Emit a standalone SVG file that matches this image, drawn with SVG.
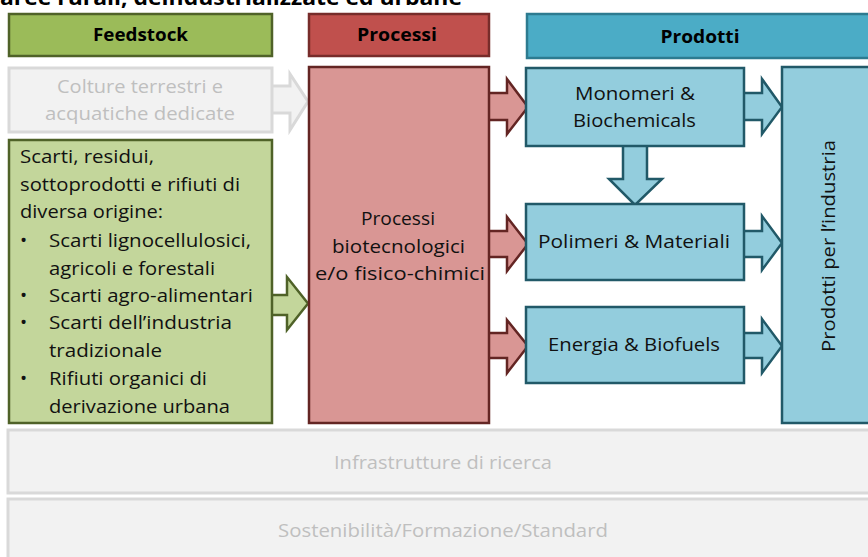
<svg xmlns="http://www.w3.org/2000/svg" width="868" height="557" viewBox="0 0 868 557">
  <style>
    text { font-family: "Open Sans", Lato, "Liberation Sans", sans-serif; }
    .hdr { font-size: 18px; font-weight: bold; fill: #000; text-anchor: middle; }
    .lbl { font-size: 19px; fill: #111; }
    .mid { text-anchor: middle; }
    .faint { fill: #bfbfbf; font-size: 18.5px; text-anchor: middle; }
    .green-h { fill: #9bbb59; stroke: #4f6228; stroke-width: 2.5; }
    .red-h { fill: #c0504d; stroke: #772c2a; stroke-width: 2.5; }
    .blue-h { fill: #4bacc6; stroke: #2d7b90; stroke-width: 2.5; }
    .green { fill: #c3d69b; stroke: #4f6228; stroke-width: 2.5; }
    .red { fill: #d99694; stroke: #632523; stroke-width: 2.5; }
    .blue { fill: #93cddd; stroke: #215968; stroke-width: 2.5; }
    .grey { fill: #f2f2f2; stroke: #d9d9d9; stroke-width: 3; }
  </style>

  <!-- heading, partly above the top edge -->
  <text x="0" y="5" style="font-size:21px;font-weight:bold" fill="#000" textLength="462" lengthAdjust="spacingAndGlyphs">aree rurali, deindustrializzate ed urbane</text>

  <!-- connectors: block arrows -->
  <g id="connectors">
    <path class="grey" d="M268,86 H290 V74 L308,101.5 L290,130 V113 H268 Z"/>
    <path class="green" d="M268,295 H287 V277 L308,303.5 L287,330 V315 H268 Z"/>
    <path class="red" d="M487,93 H507 V79 L528,107 L507,134 V120 H487 Z"/>
    <path class="red" d="M487,231 H507 V217 L528,244 L507,271 V257 H487 Z"/>
    <path class="red" d="M487,333 H507 V320 L528,346 L507,373 V358 H487 Z"/>
    <path class="blue" d="M742,93 H762 V79 L782,107 L762,134 V120 H742 Z"/>
    <path class="blue" d="M742,231 H762 V216 L782,243 L762,270 V257 H742 Z"/>
    <path class="blue" d="M742,333 H762 V319 L782,346 L762,373 V358 H742 Z"/>
    <path class="blue" d="M623,144 V179 H609 L635,205 L662,179 H647 V144 Z"/>
  </g>

  <!-- column headers -->
  <g id="hdr-feedstock">
    <rect class="green-h" x="9" y="14" width="263" height="42"/>
    <text class="hdr" x="140.5" y="41" textLength="95" lengthAdjust="spacingAndGlyphs">Feedstock</text>
  </g>
  <g id="hdr-processi">
    <rect class="red-h" x="309" y="14" width="180" height="42"/>
    <text class="hdr" x="397" y="41" textLength="80" lengthAdjust="spacingAndGlyphs">Processi</text>
  </g>
  <g id="hdr-prodotti">
    <rect class="blue-h" x="527" y="14" width="348" height="44"/>
    <text class="hdr" x="700" y="43" textLength="79" lengthAdjust="spacingAndGlyphs">Prodotti</text>
  </g>

  <!-- feedstock column -->
  <g id="colture">
    <rect class="grey" x="9" y="68" width="263" height="64"/>
    <text class="faint" x="140" y="93" textLength="166" lengthAdjust="spacingAndGlyphs">Colture terrestri e</text>
    <text class="faint" x="140" y="120" textLength="190" lengthAdjust="spacingAndGlyphs">acquatiche dedicate</text>
  </g>
  <g id="scarti">
    <rect class="green" x="9" y="140" width="263" height="283"/>
    <text class="lbl" x="20" y="163" textLength="134" lengthAdjust="spacingAndGlyphs">Scarti, residui,</text>
    <text class="lbl" x="20" y="191" textLength="220" lengthAdjust="spacingAndGlyphs">sottoprodotti e rifiuti di</text>
    <text class="lbl" x="20" y="218" textLength="143" lengthAdjust="spacingAndGlyphs">diversa origine:</text>
    <text class="lbl" x="20" y="247">•</text>
    <text class="lbl" x="49" y="247" textLength="202" lengthAdjust="spacingAndGlyphs">Scarti lignocellulosici,</text>
    <text class="lbl" x="49" y="275" textLength="166" lengthAdjust="spacingAndGlyphs">agricoli e forestali</text>
    <text class="lbl" x="20" y="302">•</text>
    <text class="lbl" x="49" y="302" textLength="204" lengthAdjust="spacingAndGlyphs">Scarti agro-alimentari</text>
    <text class="lbl" x="20" y="329">•</text>
    <text class="lbl" x="49" y="329" textLength="183" lengthAdjust="spacingAndGlyphs">Scarti dell’industria</text>
    <text class="lbl" x="49" y="357" textLength="113" lengthAdjust="spacingAndGlyphs">tradizionale</text>
    <text class="lbl" x="20" y="385">•</text>
    <text class="lbl" x="49" y="385" textLength="158" lengthAdjust="spacingAndGlyphs">Rifiuti organici di</text>
    <text class="lbl" x="49" y="413" textLength="181" lengthAdjust="spacingAndGlyphs">derivazione urbana</text>
  </g>

  <!-- process column -->
  <g id="processi">
    <rect class="red" x="309" y="67" width="180" height="356"/>
    <text class="lbl mid" x="398" y="225" textLength="74" lengthAdjust="spacingAndGlyphs">Processi</text>
    <text class="lbl mid" x="398.5" y="253" textLength="133" lengthAdjust="spacingAndGlyphs">biotecnologici</text>
    <text class="lbl mid" x="400" y="280" textLength="170" lengthAdjust="spacingAndGlyphs">e/o fisico-chimici</text>
  </g>

  <!-- product column -->
  <g id="monomeri">
    <rect class="blue" x="526" y="68" width="218" height="78"/>
    <text class="lbl mid" x="635" y="100" textLength="120" lengthAdjust="spacingAndGlyphs">Monomeri &amp;</text>
    <text class="lbl mid" x="634.5" y="127" textLength="123" lengthAdjust="spacingAndGlyphs">Biochemicals</text>
  </g>
  <g id="polimeri">
    <rect class="blue" x="526" y="204" width="218" height="76"/>
    <text class="lbl mid" x="634" y="248" textLength="192" lengthAdjust="spacingAndGlyphs">Polimeri &amp; Materiali</text>
  </g>
  <g id="energia">
    <rect class="blue" x="526" y="307" width="218" height="76"/>
    <text class="lbl mid" x="634" y="351" textLength="172" lengthAdjust="spacingAndGlyphs">Energia &amp; Biofuels</text>
  </g>
  <g id="industria">
    <rect class="blue" x="782" y="67" width="100" height="356"/>
    <text class="lbl mid" transform="translate(835 246) rotate(-90)" textLength="212" lengthAdjust="spacingAndGlyphs">Prodotti per l’industria</text>
  </g>

  <!-- cross-cutting bars -->
  <g id="infrastrutture">
    <rect class="grey" x="8" y="430" width="872" height="63"/>
    <text class="faint" x="443" y="469" textLength="218" lengthAdjust="spacingAndGlyphs">Infrastrutture di ricerca</text>
  </g>
  <g id="sostenibilita">
    <rect class="grey" x="8" y="499" width="872" height="70"/>
    <text class="faint" x="443" y="537" textLength="330" lengthAdjust="spacingAndGlyphs">Sostenibilità/Formazione/Standard</text>
  </g>
</svg>
